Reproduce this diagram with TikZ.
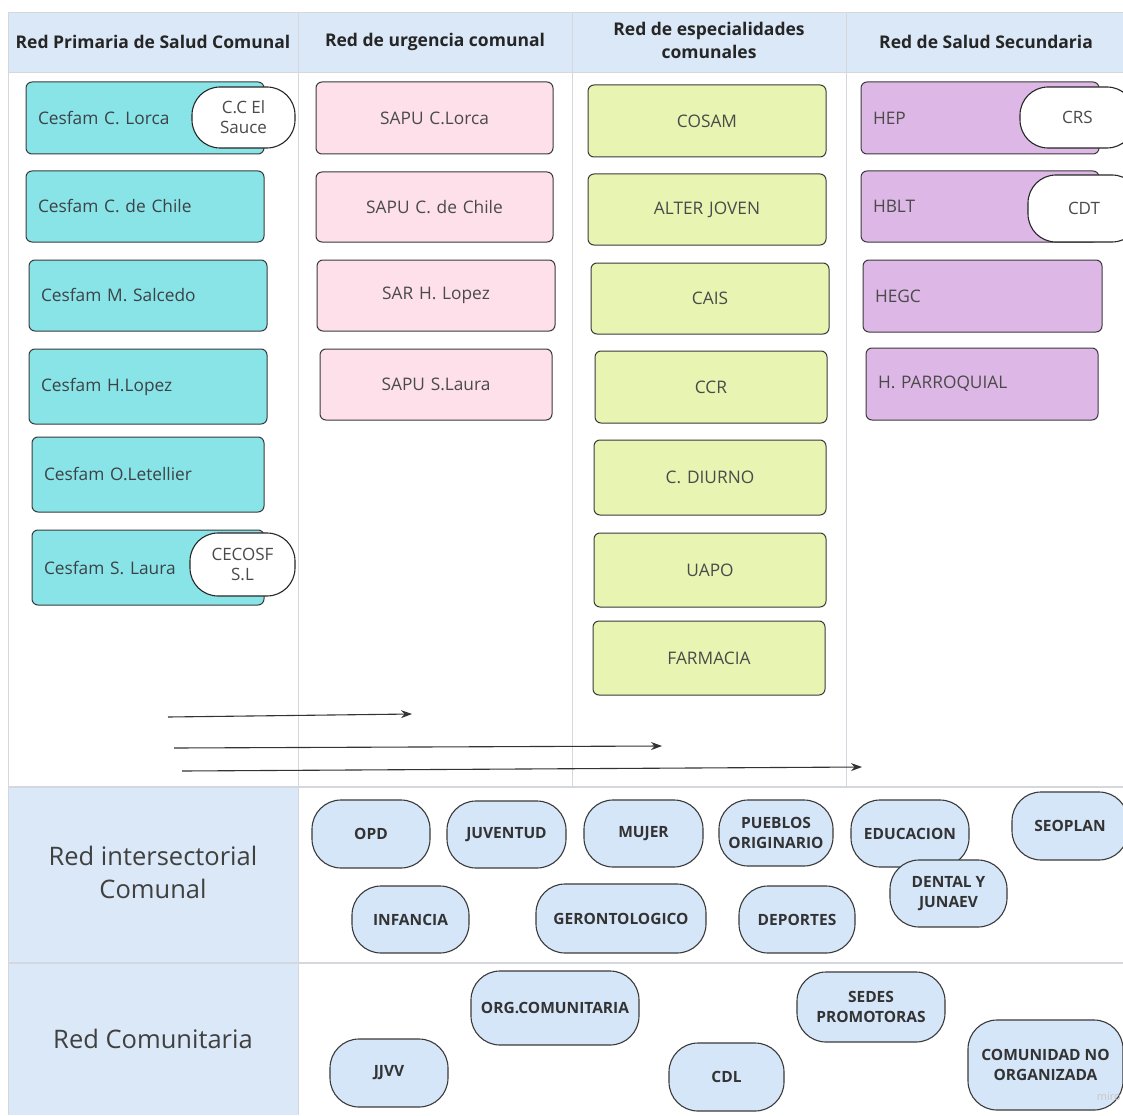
\documentclass[tikz,border=0pt]{standalone}
\usepackage{fontspec}
\setmainfont{Open Sans}
\usetikzlibrary{arrows.meta}
\definecolor{hdr}{HTML}{DAE8F7}
\definecolor{gridc}{HTML}{D4D8DE}
\definecolor{cyanb}{HTML}{88E4E6}
\definecolor{pinkb}{HTML}{FDE0E9}
\definecolor{limeb}{HTML}{E8F5B2}
\definecolor{purpb}{HTML}{DDB7E5}
\definecolor{pillb}{HTML}{D6E6F9}
\definecolor{edgec}{HTML}{3A3A3A}
\definecolor{txtc}{HTML}{4A4A4A}
\newcommand{\fs}[2]{\fontsize{#1}{#2}\selectfont}
\newcommand{\bx}[7]{%
  \pgfmathsetmacro\bw{#5-#3}\pgfmathsetmacro\bh{#6-#4}\pgfmathsetmacro\tw{#5-#3-24}%
  \node[#2, minimum width=\bw pt, minimum height=\bh pt, text width=\tw pt] (#1) at ({(#3+#5)/2},{(#4+#6)/2}) {#7};}
\newcommand{\pl}[7]{%
  \pgfmathsetmacro\bw{#5-#3}\pgfmathsetmacro\bh{#6-#4}%
  \node[#2, minimum width=\bw pt, minimum height=\bh pt] (#1) at ({(#3+#5)/2},{(#4+#6)/2}) {#7};}
\begin{document}
\begin{tikzpicture}[x=1pt,y=-1pt,
  hcell/.style={draw=gridc, fill=hdr, line width=0.8pt, align=center, font=\fs{17.5}{23}\bfseries, text=black!85, inner sep=0pt},
  box/.style={draw=edgec, line width=1pt, rounded corners=6pt, inner xsep=12pt, inner ysep=0pt, font=\fs{17.3}{21}, text=txtc},
  boxl/.style={box, align=left},
  boxc/.style={box, align=center},
  cyanbox/.style={boxl, fill=cyanb, text=black!70!cyan!60!black},
  pinkbox/.style={boxc, fill=pinkb},
  limebox/.style={boxc, fill=limeb},
  purpbox/.style={boxl, fill=purpb},
  tag/.style={draw=black!85, fill=white, line width=1.1pt, rounded corners=28pt, align=center, font=\fs{17}{20}, text=txtc, inner sep=0pt},
  pill/.style={draw=edgec, fill=pillb, line width=1.1pt, rounded corners=29pt, align=center, font=\fs{15.5}{20}\bfseries, text=black!80, inner sep=0pt},
  arr/.style={draw=black!80, line width=1.1pt, -{Stealth[length=11pt,width=8pt]}},
  seclab/.style={font=\fs{25.5}{33}, text=black!75, align=center}
]
\useasboundingbox (0,0) rectangle (1123,1115);
\fill[white] (0,0) rectangle (1123,1115);

% section backgrounds
\fill[hdr] (8,787) rectangle (298,963);
\fill[hdr] (8,963) rectangle (298,1115);

% header
\node[hcell, minimum width=290pt, minimum height=60pt] (h1) at (153,42) {Red Primaria de Salud Comunal};
\node[hcell, minimum width=274pt, minimum height=60pt] (h2) at (435,42) {Red de urgencia comunal};
\node[hcell, minimum width=274pt, minimum height=60pt] (h3) at (709,42) {\raisebox{3pt}{\begin{tabular}{@{}c@{}}Red de especialidades\\comunales\end{tabular}}};
\node[hcell, minimum width=280pt, minimum height=60pt] (h4) at (986,42) {Red de Salud Secundaria};

% grid lines
\draw[gridc, line width=0.8pt] (8,12) -- (8,1115);
\draw[gridc, line width=0.8pt] (298,72) -- (298,787);
\draw[gridc, line width=0.8pt] (572,72) -- (572,787);
\draw[gridc, line width=0.8pt] (846,72) -- (846,787);
\draw[gridc, line width=0.8pt] (298,787) -- (298,1115);
\draw[gridc, line width=1.2pt] (8,787) -- (1123,787);
\draw[gridc, line width=1.2pt] (8,963) -- (1123,963);

% section labels
\node[seclab] (s1) at (153,872) {Red intersectorial\\Comunal};
\node[seclab] (s2) at (153,1039) {Red Comunitaria};

% column 1
\bx{c1}{cyanbox}{26}{82}{264}{154}{Cesfam C. Lorca}
\bx{c2}{cyanbox}{26}{171}{264}{242}{Cesfam C. de Chile}
\bx{c3}{cyanbox}{29}{260}{267}{331}{Cesfam M. Salcedo}
\bx{c4}{cyanbox}{29}{349}{267}{424}{Cesfam H.Lopez}
\bx{c5}{cyanbox}{32}{437}{264}{512}{Cesfam O.Letellier}
\bx{c6}{cyanbox}{32}{530}{264}{605}{Cesfam S. Laura}
\pl{t1}{tag}{192}{87}{295}{148}{C.C El\\Sauce}
\pl{t2}{tag}{190}{533}{295}{596}{CECOSF\\S.L}

% column 2
\bx{p1}{pinkbox}{316}{82}{553}{154}{SAPU C.Lorca}
\bx{p2}{pinkbox}{316}{172}{553}{242}{SAPU C. de Chile}
\bx{p3}{pinkbox}{317}{260}{555}{331}{SAR H. Lopez}
\bx{p4}{pinkbox}{320}{349}{552}{420}{SAPU S.Laura}

% column 3
\bx{e1}{limebox}{588}{85}{826}{157}{COSAM}
\bx{e2}{limebox}{588}{174}{826}{245}{ALTER JOVEN}
\bx{e3}{limebox}{591}{263}{829}{334}{CAIS}
\bx{e4}{limebox}{595}{351}{827}{423}{CCR}
\bx{e5}{limebox}{594}{440}{826}{515}{C. DIURNO}
\bx{e6}{limebox}{594}{533}{826}{607}{UAPO}
\bx{e7}{limebox}{593}{621}{825}{695}{FARMACIA}

% column 4
\bx{s4a}{purpbox}{861}{82}{1099}{154}{HEP}
\bx{s4b}{purpbox}{861}{171}{1099}{242}{HBLT}
\bx{s4c}{purpbox}{863}{260}{1102}{332}{HEGC}
\bx{s4d}{purpbox}{866}{348}{1098}{420}{H. PARROQUIAL}
\begin{scope}
\clip (846,72) rectangle (1123,787);
\pl{t3}{tag}{1020}{87}{1135}{148}{CRS}
\pl{t4}{tag}{1028}{175}{1140}{242}{CDT}
\end{scope}

% arrows
\coordinate (a1s) at (168,717); \coordinate (a1e) at (412,714);
\coordinate (a2s) at (174,748); \coordinate (a2e) at (662,746);
\coordinate (a3s) at (182,771); \coordinate (a3e) at (862,767);
\draw[arr] (a1s) -- (a1e);
\draw[arr] (a2s) -- (a2e);
\draw[arr] (a3s) -- (a3e);

% intersectorial
\pl{i1}{pill}{312}{800}{430}{868}{OPD}
\pl{i2}{pill}{447}{801}{566}{868}{JUVENTUD}
\pl{i3}{pill}{584}{800}{703}{867}{MUJER}
\pl{i4}{pill}{719}{800}{833}{866}{PUEBLOS\\ORIGINARIO}
\pl{i5}{pill}{851}{800}{969}{867}{EDUCACION}
\pl{i7}{pill}{890}{860}{1007}{927}{DENTAL Y\\JUNAEV}
\pl{i6}{pill}{1012}{792}{1128}{860}{SEOPLAN}
\pl{i8}{pill}{352}{886}{469}{953}{INFANCIA}
\pl{i9}{pill}{536}{884}{706}{953}{GERONTOLOGICO}
\pl{i10}{pill}{739}{886}{855}{953}{DEPORTES}

% community
\pl{r1}{pill}{330}{1039}{448}{1107}{JJVV}
\pl{r2}{pill}{471}{971}{639}{1045}{ORG.COMUNITARIA}
\pl{r3}{pill}{669}{1043}{784}{1111}{CDL}
\pl{r4}{pill}{797}{972}{945}{1042}{SEDES\\PROMOTORAS}
\pl{r5}{pill}{968}{1020}{1123}{1110}{COMUNIDAD NO\\ORGANIZADA}
\node[font=\fs{11}{13}, text=black!22, anchor=east, inner sep=1pt] (wm) at (1122,1097) {miro};
\end{tikzpicture}
\end{document}
